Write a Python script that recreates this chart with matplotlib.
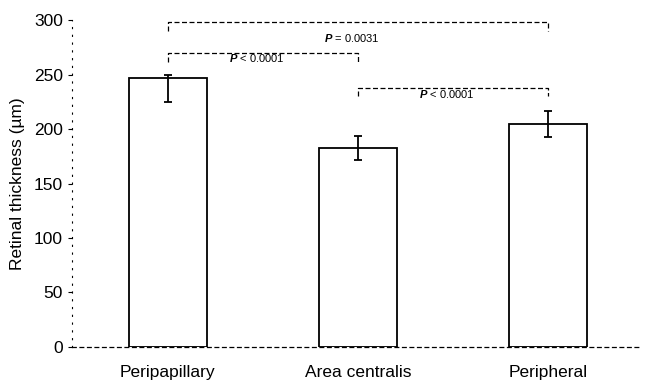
import matplotlib.pyplot as plt
import numpy as np

plt.rcParams['font.family'] = ['Liberation Sans', 'DejaVu Sans']
plt.rcParams['mathtext.fontset'] = 'custom'
plt.rcParams['mathtext.bfit'] = 'Liberation Sans:italic:bold'

regions = ['Peripapillary', 'Area centralis', 'Peripheral']
thickness = [247, 183, 205]
err_low = [22, 11, 12]
err_high = [3, 11, 12]

# significance brackets: (left bar, right bar, line height, label, label height)
brackets = [(0, 1, 270, '< 0.0001', 265),
            (0, 2, 298, '= 0.0031', 284),
            (1, 2, 238, '< 0.0001', 232)]

fig = plt.figure(figsize=(6.47, 3.88), dpi=100)
ax = fig.add_axes([0.111, 0.106, 0.878, 0.842])

x = np.arange(len(regions))
ax.bar(x, thickness, width=0.41, color='white', edgecolor='black', linewidth=1.3, zorder=2)
ax.errorbar(x, thickness, yerr=[err_low, err_high], fmt='none', ecolor='black',
            elinewidth=1.3, capsize=3, capthick=1.3, zorder=3)

for left, right, h, label, ty in brackets:
    ax.plot([x[left], x[left], x[right], x[right]], [h - 8, h, h, h - 8],
            color='black', linewidth=0.9, linestyle=(0, (4, 2)), clip_on=False)
    ax.text((x[left] + x[right]) / 2 - 0.03, ty, r'$\mathbfit{P}$ ' + label,
            ha='center', va='center', fontsize=8)

ax.set_xlim(-0.505, 2.484)
ax.set_ylim(0, 300)
ax.set_yticks([0, 50, 100, 150, 200, 250, 300])
ax.set_xticks(x)
ax.set_xticklabels(regions, fontsize=12.5)
ax.tick_params(axis='y', labelsize=12.5, length=3, direction='out')
ax.tick_params(axis='x', length=0, pad=13)
ax.set_ylabel('Retinal thickness (µm)', fontsize=12.5, labelpad=6)

ax.spines['top'].set_visible(False)
ax.spines['right'].set_visible(False)
ax.spines['left'].set_linestyle((0, (1, 6)))
ax.spines['left'].set_linewidth(0.8)
ax.spines['bottom'].set_linestyle((0, (3, 3)))
ax.spines['bottom'].set_linewidth(0.9)

plt.savefig('out.png', dpi=100)
